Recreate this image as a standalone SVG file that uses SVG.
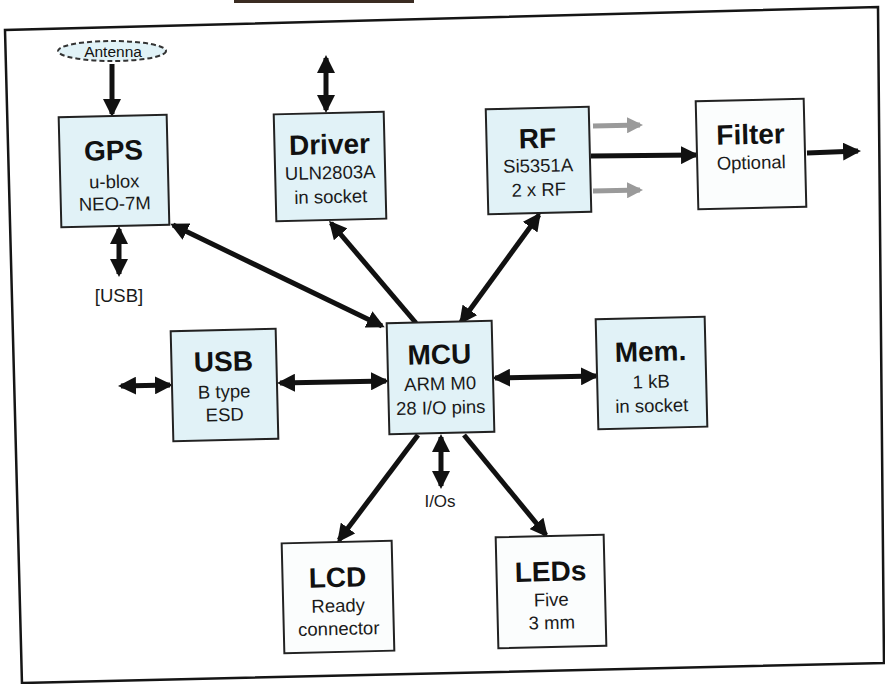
<svg xmlns="http://www.w3.org/2000/svg" width="885" height="684" viewBox="0 0 885 684">
<defs>
<style>
.box{fill:#e1f2f7;stroke:#222;stroke-width:2}
.wbox{fill:#fbfdfd;stroke:#222;stroke-width:2}
.t{font-family:"Liberation Sans",Arial,sans-serif;font-weight:bold;font-size:28px;fill:#111;text-anchor:middle}
.s{font-family:"Liberation Sans",Arial,sans-serif;font-size:18.5px;fill:#1a1a1a;text-anchor:middle}
.c{fill:none;stroke:#111;stroke-width:5}
.g{fill:none;stroke:#9a9a9a;stroke-width:5}
</style>
<marker id="ah" viewBox="0 0 18 18" refX="15" refY="9" markerWidth="18" markerHeight="18" markerUnits="userSpaceOnUse" orient="auto-start-reverse">
<path d="M0,0 L18,9 L0,18 z" fill="#111"/>
</marker>
<marker id="gh" viewBox="0 0 16 16" refX="13" refY="8" markerWidth="16" markerHeight="16" markerUnits="userSpaceOnUse" orient="auto-start-reverse">
<path d="M0,0 L16,8 L0,16 z" fill="#9a9a9a"/>
</marker>
</defs>
<rect width="885" height="684" fill="#ffffff"/>
<rect x="234" y="0" width="180" height="3" fill="#3b2c22"/>
<path d="M22,684 L5,30 L878,7 L884,664 M22,683 L885,663" fill="none" stroke="#151515" stroke-width="2.5"/>

<g id="connectors">
<path class="c" d="M112,64 L112,114" marker-end="url(#ah)"/>
<path class="c" d="M119,229 L119,274" marker-start="url(#ah)" marker-end="url(#ah)"/>
<path class="c" d="M326,58 L326,110" marker-start="url(#ah)" marker-end="url(#ah)"/>
<path class="c" d="M173,225 L382,326" marker-start="url(#ah)" marker-end="url(#ah)"/>
<path class="c" d="M416,323 L331,223" marker-end="url(#ah)"/>
<path class="c" d="M539,215 L461,322" marker-start="url(#ah)" marker-end="url(#ah)"/>
<path class="g" d="M593,126 L640,125" marker-end="url(#gh)"/>
<path class="g" d="M593,191 L640,190" marker-end="url(#gh)"/>
<path class="c" d="M591,156 L696,155" marker-end="url(#ah)"/>
<path class="c" d="M807,153 L858,151" marker-end="url(#ah)"/>
<path class="c" d="M121,386 L170,385" marker-start="url(#ah)" marker-end="url(#ah)"/>
<path class="c" d="M280,383 L386,381" marker-start="url(#ah)" marker-end="url(#ah)"/>
<path class="c" d="M495,378 L596,376" marker-start="url(#ah)" marker-end="url(#ah)"/>
<path class="c" d="M418,435 L339,540" marker-end="url(#ah)"/>
<path class="c" d="M464,435 L546,535" marker-end="url(#ah)"/>
<path class="c" d="M441,437 L441,486" marker-start="url(#ah)" marker-end="url(#ah)"/>
</g>

<g id="antenna">
<ellipse cx="112" cy="51" rx="54" ry="10" fill="#e1f2f7" stroke="#333" stroke-width="2" stroke-dasharray="5,3"/>
<text x="113" y="56.5" font-family="'Liberation Sans',Arial,sans-serif" font-size="15.5" text-anchor="middle" fill="#111">Antenna</text>
</g>
<g id="usb-label"><text class="s" x="119" y="302">[USB]</text></g>
<g id="ios-label"><text class="s" x="440" y="507" style="font-size:17px">I/Os</text></g>

<g id="gps" transform="rotate(-1.4 114 171)">
<rect class="box" x="60" y="116" width="108" height="110"/>
<text class="t" x="114" y="160">GPS</text>
<text class="s" x="114" y="188">u-blox</text>
<text class="s" x="114" y="210">NEO-7M</text>
</g>
<g id="driver" transform="rotate(-1.4 330 166)">
<rect class="box" x="275" y="113" width="110" height="107"/>
<text class="t" x="330" y="154">Driver</text>
<text class="s" x="330" y="179">ULN2803A</text>
<text class="s" x="330" y="203">in socket</text>
</g>
<g id="rf" transform="rotate(-1.4 538 160)">
<rect class="box" x="487" y="108" width="103" height="105"/>
<text class="t" x="538" y="148">RF</text>
<text class="s" x="538" y="172">Si5351A</text>
<text class="s" x="538" y="196">2 x RF</text>
</g>
<g id="filter" transform="rotate(-1.4 751 154)">
<rect class="wbox" x="697" y="100" width="108" height="108"/>
<text class="t" x="751" y="144">Filter</text>
<text class="s" x="751" y="169">Optional</text>
</g>
<g id="usb" transform="rotate(-1.4 224 385)">
<rect class="box" x="172" y="330" width="105" height="110"/>
<text class="t" x="224" y="371">USB</text>
<text class="s" x="224" y="398">B type</text>
<text class="s" x="224" y="421">ESD</text>
</g>
<g id="mcu" transform="rotate(-1.4 440 377)">
<rect class="box" x="388" y="322" width="105" height="111"/>
<text class="t" x="440" y="364">MCU</text>
<text class="s" x="440" y="390">ARM M0</text>
<text class="s" x="440" y="414">28 I/O pins</text>
</g>
<g id="mem" transform="rotate(-1.4 651 373)">
<rect class="box" x="597" y="318" width="109" height="110"/>
<text class="t" x="651" y="361">Mem.</text>
<text class="s" x="651" y="388">1 kB</text>
<text class="s" x="651" y="412">in socket</text>
</g>
<g id="lcd" transform="rotate(-1.4 338 597)">
<rect class="wbox" x="283" y="542" width="110" height="110"/>
<text class="t" x="338" y="587">LCD</text>
<text class="s" x="338" y="612">Ready</text>
<text class="s" x="338" y="635">connector</text>
</g>
<g id="leds" transform="rotate(-1.4 551 591)">
<rect class="wbox" x="497" y="536" width="108" height="111"/>
<text class="t" x="551" y="581">LEDs</text>
<text class="s" x="551" y="606">Five</text>
<text class="s" x="551" y="629">3 mm</text>
</g>
</svg>
